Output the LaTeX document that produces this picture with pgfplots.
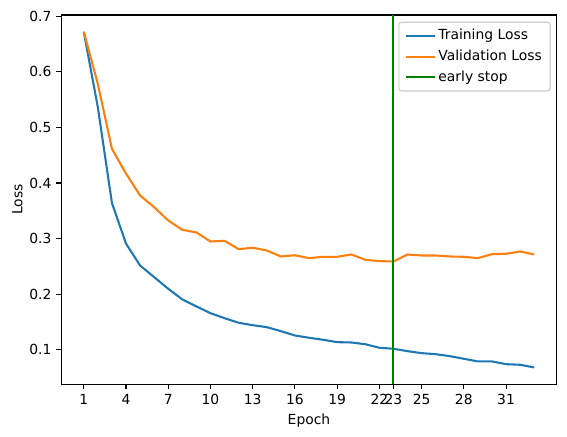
\documentclass[border=0pt]{standalone}
\usepackage{fontspec}
\setmainfont{DejaVu Sans}
\usepackage{pgfplots}
\pgfplotsset{compat=1.18}
\definecolor{tabblue}{HTML}{1F77B4}
\definecolor{taborange}{HTML}{FF7F0E}
\definecolor{mplgreen}{HTML}{008000}
\definecolor{legframe}{HTML}{CCCCCC}
\begin{document}
\fontsize{10}{12}\selectfont
\begin{tikzpicture}
\path[use as bounding box] (-44.1pt,-37.9pt) rectangle (364.1pt,276.7pt);
\begin{axis}[
  at={(0,0)}, anchor=south west,
  scale only axis,
  width=356.7pt, height=265.9pt,
  xmin=-0.6, xmax=34.6,
  ymin=0.0378, ymax=0.7022,
  xtick={1,4,7,10,13,16,19,22,23,25,28,31},
  ytick={0.1,0.2,0.3,0.4,0.5,0.6,0.7},
  yticklabel style={/pgf/number format/fixed,/pgf/number format/precision=1,/pgf/number format/fixed zerofill},
  /pgf/number format/assume math mode=true,
  tick align=outside,
  major tick length=3.5pt,
  tick style={line width=0.8pt, black},
  axis line style={line width=0.8pt},
  every tick label/.append style={font=\fontsize{10}{12}\selectfont},
  xtick pos=bottom, ytick pos=left,
  xlabel={Epoch}, ylabel={Loss},
  label style={font=\fontsize{10}{12}\selectfont},
  xlabel style={yshift=0pt},
  ylabel style={yshift=-2pt},
  legend style={
    at={(1,1)}, anchor=north east, xshift=-4.3pt, yshift=-4.8pt,
    draw=legframe, rounded corners=2pt, line width=0.8pt,
    font=\fontsize{10}{12}\selectfont,
    inner xsep=4.5pt, inner ysep=3pt,
    row sep=1.5pt,
    nodes={inner sep=1.5pt, text height=8pt, text depth=2.5pt},
  },
  legend cell align=left,
  legend image code/.code={\draw[#1, line width=1.5pt] (0pt,0pt) -- (21pt,0pt);},
  clip=true,
]
\addplot[tabblue, line width=1.5pt] coordinates {
(1,0.672) (2,0.536) (3,0.364) (4,0.291) (5,0.2516) (6,0.2306) (7,0.2097)
(8,0.1905) (9,0.178) (10,0.1658) (11,0.1568) (12,0.1486) (13,0.1442)
(14,0.1407) (15,0.1335) (16,0.1257) (17,0.1216) (18,0.118) (19,0.1137)
(20,0.1131) (21,0.110) (22,0.1036) (23,0.1018) (24,0.0975) (25,0.0939)
(26,0.0921) (27,0.0885) (28,0.0838) (29,0.079) (30,0.079) (31,0.0741)
(32,0.073) (33,0.0682)
};
\addlegendentry{Training Loss}
\addplot[taborange, line width=1.5pt] coordinates {
(1,0.672) (2,0.578) (3,0.4615) (4,0.417) (5,0.3775) (6,0.3565) (7,0.3326)
(8,0.3158) (9,0.311) (10,0.2948) (11,0.296) (12,0.281) (13,0.2835)
(14,0.2786) (15,0.2678) (16,0.270) (17,0.2648) (18,0.2672) (19,0.2672)
(20,0.2714) (21,0.2619) (22,0.2594) (23,0.2588) (24,0.2714) (25,0.2696)
(26,0.2696) (27,0.2678) (28,0.2672) (29,0.2648) (30,0.272) (31,0.2726)
(32,0.2768) (33,0.2714)
};
\addlegendentry{Validation Loss}
\addplot[mplgreen, line width=1.5pt] coordinates {(23,0.0378) (23,0.7022)};
\addlegendentry{early stop}
\end{axis}
\end{tikzpicture}
\end{document}
